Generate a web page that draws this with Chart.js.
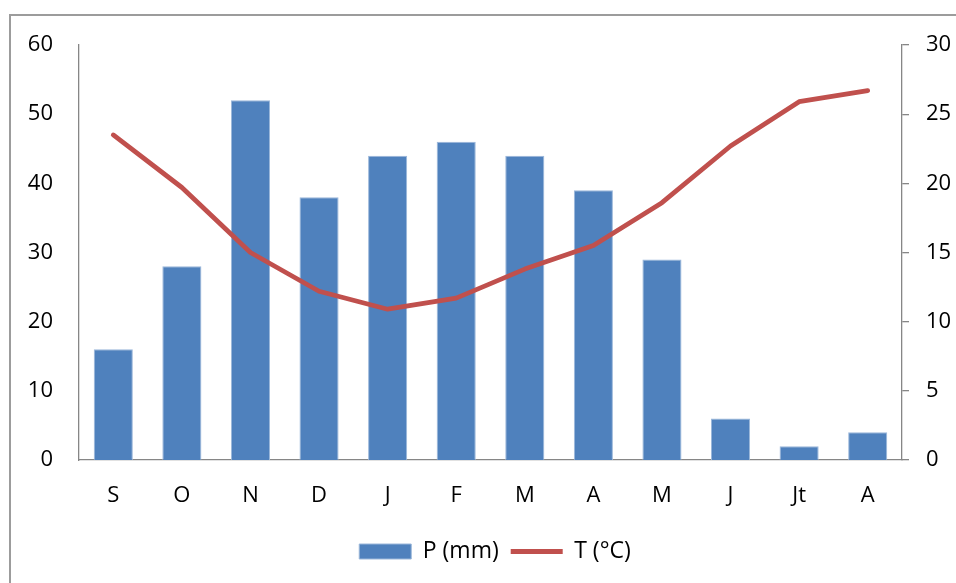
<!DOCTYPE html>
<html>
<head>
<meta charset="utf-8">
<script src="https://cdn.jsdelivr.net/npm/chart.js@4"></script>
<style>
  body { margin: 0; background: #fff; overflow: hidden; }
  #wrap { position: relative; width: 956px; height: 583px; }
  #frame { position: absolute; left: 9px; top: 14px; width: 2000px; height: 2000px;
           border-left: 2px solid #9c9c9c; border-top: 2px solid #9c9c9c; pointer-events: none; }
</style>
</head>
<body>
<div id="wrap">
  <div id="frame"></div>
  <canvas id="myChart" width="956" height="583"></canvas>
</div>
<script>
// climate data
var months = ["S", "O", "N", "D", "J", "F", "M", "A", "M", "J", "Jt", "A"];
var precip = [16, 28, 52, 38, 44, 46, 44, 39, 29, 6, 2, 4];           // P (mm)
var temps = [23.5, 19.7, 15.0, 12.2, 10.9, 11.7, 13.8, 15.5, 18.6, 22.7, 25.9, 26.7]; // T (°C)
var pTicks = [0, 10, 20, 30, 40, 50, 60];
var tTicks = [0, 5, 10, 15, 20, 25, 30];

var font = "'Open Sans', 'Noto Sans', sans-serif";
var axisGrey = "#868686";

// the legend sits a bit right of the canvas centre in the original
var legendShift = {
  id: "legendShift",
  afterLayout: function(chart) {
    if (chart.legend) chart.legend.left += 34;
  }
};

new Chart("myChart", {
  type: "bar",
  data: {
    labels: months,
    datasets: [{
      label: "P (mm)",
      data: precip,
      backgroundColor: "#4f81bd",
      borderColor: "#9bb7da",
      borderWidth: 1,
      barPercentage: 0.57,
      categoryPercentage: 1,
      yAxisID: "y",
      order: 2,
      pointStyle: "rect"
    }, {
      type: "line",
      label: "T (°C)",
      data: temps,
      borderColor: "#c0504d",
      backgroundColor: "#c0504d",
      borderWidth: 4.8,
      borderCapStyle: "round",
      borderJoinStyle: "round",
      pointRadius: 0,
      tension: 0,
      fill: false,
      yAxisID: "y2",
      order: 1,
      pointStyle: "line"
    }]
  },
  options: {
    responsive: false,
    animation: false,
    layout: { padding: { top: 45, bottom: 10, left: 0, right: 0 } },
    plugins: {
      tooltip: { enabled: false },
      legend: {
        position: "bottom",
        labels: {
          usePointStyle: true,
          pointStyleWidth: 52,
          boxHeight: 15,
          padding: 12,
          color: "#000",
          font: { family: font, size: 23 },
          sort: function(a, b) { return a.datasetIndex - b.datasetIndex; }
        }
      }
    },
    scales: {
      x: {
        grid: { display: false, drawTicks: false },
        border: { display: true, color: axisGrey, width: 1.3 },
        ticks: { color: "#000", padding: 23, font: { family: font, size: 22 } },
        afterFit: function(scale) { scale.height = 68; }
      },
      y: {
        position: "left",
        min: 0,
        max: 60,
        afterBuildTicks: function(scale) { scale.ticks = pTicks.map(function(v) { return {value: v}; }); },
        grid: { display: false, drawTicks: false },
        border: { display: true, color: axisGrey, width: 1.3 },
        ticks: { color: "#000", padding: 26, font: { family: font, size: 22 } },
        afterFit: function(scale) { scale.width = 79; }
      },
      y2: {
        position: "right",
        min: 0,
        max: 30,
        afterBuildTicks: function(scale) { scale.ticks = tTicks.map(function(v) { return {value: v}; }); },
        grid: { display: true, drawOnChartArea: false, drawTicks: true, tickLength: 7, color: axisGrey, lineWidth: 1.3 },
        border: { display: true, color: axisGrey, width: 1.3 },
        ticks: { color: "#000", padding: 17, font: { family: font, size: 22 } },
        afterFit: function(scale) { scale.width = 54; }
      }
    }
  },
  plugins: [legendShift]
});
</script>
</body>
</html>
